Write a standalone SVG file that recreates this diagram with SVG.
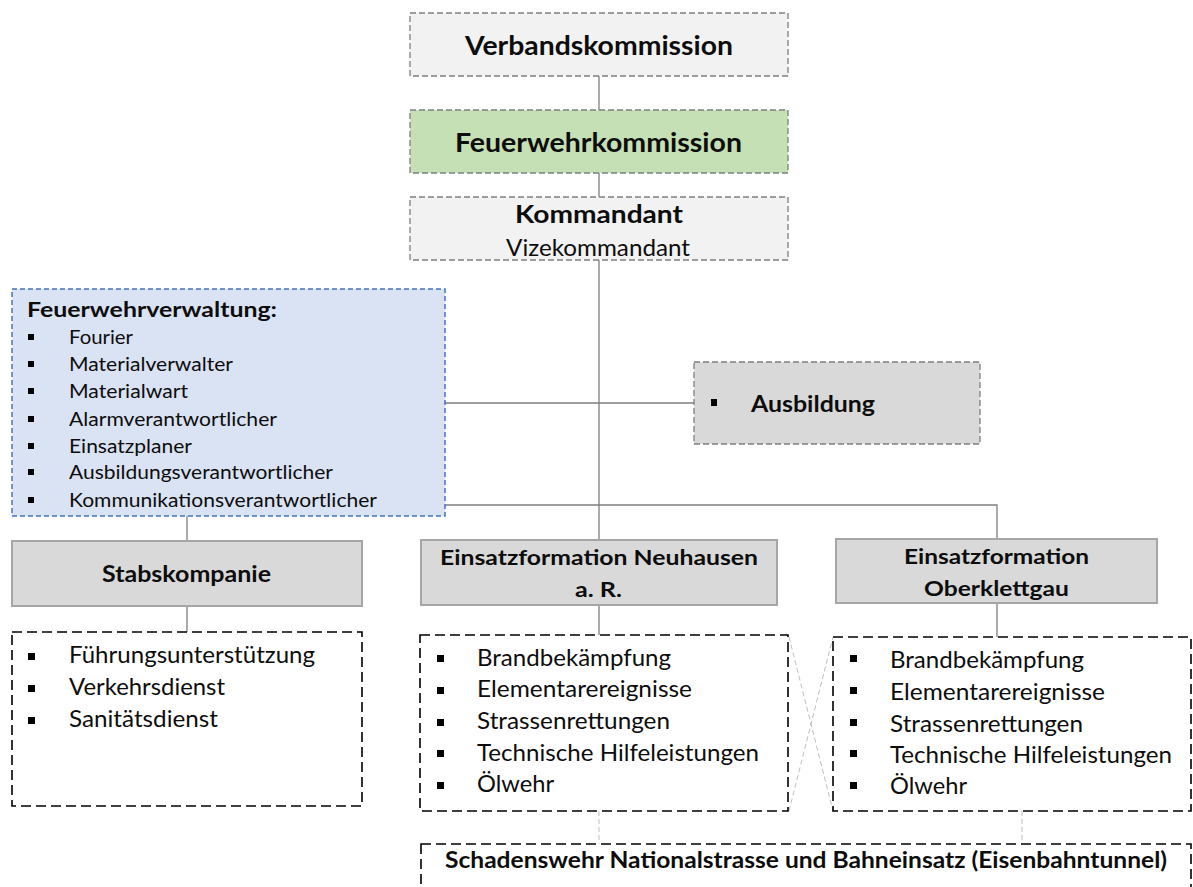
<svg xmlns="http://www.w3.org/2000/svg" width="1193" height="887" viewBox="0 0 1193 887">
<style>
text{font-family:Lato,"Open Sans","Liberation Sans",sans-serif;fill:#0d0d0d}
.b{font-weight:bold}
.c{text-anchor:middle}
.top{fill:#f2f2f2;stroke:#7f7f7f;stroke-width:1.3;stroke-dasharray:6 3}
.grn{fill:#c5e0b4;stroke:#7f7f7f;stroke-width:1.3;stroke-dasharray:6 3}
.fv{fill:#dae3f3;stroke:#4472c4;stroke-width:1.5;stroke-dasharray:5 3}
.aus{fill:#d9d9d9;stroke:#7f7f7f;stroke-width:1.3;stroke-dasharray:6 3}
.mid{fill:#d9d9d9;stroke:#a6a6a6;stroke-width:2}
.lst{fill:#fff;stroke:#000;stroke-width:1.6;stroke-dasharray:10 5}
.bul{fill:#000}
.con line,.con polyline{stroke:#7f7f7f;stroke-width:1.3;fill:none}
.con .lt{stroke:#bfbfbf;stroke-width:1;stroke-dasharray:5 3}
</style>
<g class="con" id="connectors">
<line x1="599" y1="76" x2="599" y2="110"/>
<line x1="599" y1="173" x2="599" y2="197"/>
<line x1="599" y1="260" x2="599" y2="540"/>
<line x1="445" y1="403" x2="694" y2="403"/>
<polyline points="445,505 997,505 997,539"/>
<line x1="187" y1="516" x2="187" y2="541"/>
<line x1="187" y1="606" x2="187" y2="632"/>
<line x1="599" y1="605" x2="599" y2="635"/>
<line x1="997" y1="603" x2="997" y2="637"/>
<line class="lt" x1="599" y1="811" x2="599" y2="844"/>
<line class="lt" x1="1022" y1="811" x2="1022" y2="844"/>
<line class="lt" x1="789" y1="637" x2="833" y2="811"/>
<line class="lt" x1="789" y1="811" x2="833" y2="637"/>
</g>
<g id="verbandskommission">
<rect class="top" x="410" y="13" width="378" height="63"/>
<text class="b c" x="599" y="55" font-size="26" textLength="268" lengthAdjust="spacingAndGlyphs">Verbandskommission</text>
</g>
<g id="feuerwehrkommission">
<rect class="grn" x="410" y="110" width="378" height="63"/>
<text class="b c" x="598.5" y="152" font-size="26" textLength="287" lengthAdjust="spacingAndGlyphs">Feuerwehrkommission</text>
</g>
<g id="kommandant">
<rect class="top" x="410" y="197" width="378" height="63"/>
<text class="b c" x="599" y="223" font-size="25" textLength="168" lengthAdjust="spacingAndGlyphs">Kommandant</text>
<text class="c" x="598" y="256" font-size="23" textLength="184" lengthAdjust="spacingAndGlyphs">Vizekommandant</text>
</g>
<g id="feuerwehrverwaltung">
<rect class="fv" x="12" y="289" width="433" height="227"/>
<text class="b" x="27" y="317" font-size="20" textLength="250" lengthAdjust="spacingAndGlyphs">Feuerwehrverwaltung:</text>
<rect class="bul" x="28" y="334" width="6" height="6"/>
<text x="69" y="344" font-size="19.5" textLength="64" lengthAdjust="spacingAndGlyphs">Fourier</text>
<rect class="bul" x="28" y="361" width="6" height="6"/>
<text x="69" y="371" font-size="19.5" textLength="164" lengthAdjust="spacingAndGlyphs">Materialverwalter</text>
<rect class="bul" x="28" y="388" width="6" height="6"/>
<text x="69" y="398" font-size="19.5" textLength="119" lengthAdjust="spacingAndGlyphs">Materialwart</text>
<rect class="bul" x="28" y="416" width="6" height="6"/>
<text x="69" y="426" font-size="19.5" textLength="208" lengthAdjust="spacingAndGlyphs">Alarmverantwortlicher</text>
<rect class="bul" x="28" y="443" width="6" height="6"/>
<text x="69" y="453" font-size="19.5" textLength="123" lengthAdjust="spacingAndGlyphs">Einsatzplaner</text>
<rect class="bul" x="28" y="469" width="6" height="6"/>
<text x="69" y="479" font-size="19.5" textLength="264" lengthAdjust="spacingAndGlyphs">Ausbildungsverantwortlicher</text>
<rect class="bul" x="28" y="497" width="6" height="6"/>
<text x="69" y="507" font-size="19.5" textLength="308" lengthAdjust="spacingAndGlyphs">Kommunikationsverantwortlicher</text>
</g>
<g id="ausbildung">
<rect class="aus" x="694" y="362" width="286" height="82"/>
<rect class="bul" x="711" y="399" width="6" height="7"/>
<text class="b" x="751" y="412" font-size="23" textLength="124" lengthAdjust="spacingAndGlyphs">Ausbildung</text>
</g>
<g id="stabskompanie">
<rect class="mid" x="12" y="541" width="350" height="65"/>
<text class="b c" x="186.5" y="582" font-size="23" textLength="169" lengthAdjust="spacingAndGlyphs">Stabskompanie</text>
</g>
<g id="einsatzformation-neuhausen">
<rect class="mid" x="421" y="540" width="356" height="65"/>
<text class="b c" x="599" y="565" font-size="21" textLength="318" lengthAdjust="spacingAndGlyphs">Einsatzformation Neuhausen</text>
<text class="b c" x="598.5" y="597" font-size="21" textLength="47" lengthAdjust="spacingAndGlyphs">a. R.</text>
</g>
<g id="einsatzformation-oberklettgau">
<rect class="mid" x="836" y="539" width="321" height="64"/>
<text class="b c" x="996.5" y="564" font-size="21" textLength="185" lengthAdjust="spacingAndGlyphs">Einsatzformation</text>
<text class="b c" x="996.5" y="596" font-size="21" textLength="145" lengthAdjust="spacingAndGlyphs">Oberklettgau</text>
</g>
<g id="stab-liste">
<rect class="lst" x="12" y="632" width="350" height="174"/>
<rect class="bul" x="28" y="653" width="7" height="7"/>
<text x="69" y="663" font-size="23" textLength="246" lengthAdjust="spacingAndGlyphs">Führungsunterstützung</text>
<rect class="bul" x="28" y="685" width="7" height="7"/>
<text x="69" y="695" font-size="23" textLength="156" lengthAdjust="spacingAndGlyphs">Verkehrsdienst</text>
<rect class="bul" x="28" y="717" width="7" height="7"/>
<text x="69" y="727" font-size="23" textLength="149" lengthAdjust="spacingAndGlyphs">Sanitätsdienst</text>
</g>
<g id="neuhausen-liste">
<rect class="lst" x="420" y="635" width="368" height="176"/>
<rect class="bul" x="437" y="655" width="7" height="7"/>
<text x="477" y="666" font-size="23" textLength="194" lengthAdjust="spacingAndGlyphs">Brandbekämpfung</text>
<rect class="bul" x="437" y="687" width="7" height="7"/>
<text x="477" y="697" font-size="23" textLength="215" lengthAdjust="spacingAndGlyphs">Elementarereignisse</text>
<rect class="bul" x="437" y="719" width="7" height="7"/>
<text x="477" y="729" font-size="23" textLength="193" lengthAdjust="spacingAndGlyphs">Strassenrettungen</text>
<rect class="bul" x="437" y="750" width="7" height="7"/>
<text x="477" y="761" font-size="23" textLength="282" lengthAdjust="spacingAndGlyphs">Technische Hilfeleistungen</text>
<rect class="bul" x="437" y="782" width="7" height="7"/>
<text x="477" y="792" font-size="23" textLength="77" lengthAdjust="spacingAndGlyphs">Ölwehr</text>
</g>
<g id="oberklettgau-liste">
<rect class="lst" x="833" y="637" width="358" height="174"/>
<rect class="bul" x="850" y="655" width="7" height="7"/>
<text x="890" y="668" font-size="23" textLength="194" lengthAdjust="spacingAndGlyphs">Brandbekämpfung</text>
<rect class="bul" x="850" y="687" width="7" height="7"/>
<text x="890" y="700" font-size="23" textLength="215" lengthAdjust="spacingAndGlyphs">Elementarereignisse</text>
<rect class="bul" x="850" y="719" width="7" height="7"/>
<text x="890" y="732" font-size="23" textLength="193" lengthAdjust="spacingAndGlyphs">Strassenrettungen</text>
<rect class="bul" x="850" y="750" width="7" height="7"/>
<text x="890" y="763" font-size="23" textLength="282" lengthAdjust="spacingAndGlyphs">Technische Hilfeleistungen</text>
<rect class="bul" x="850" y="782" width="7" height="7"/>
<text x="890" y="794" font-size="23" textLength="77" lengthAdjust="spacingAndGlyphs">Ölwehr</text>
</g>
<g id="schadenswehr">
<rect class="lst" x="421" y="844" width="770" height="60"/>
<text class="b" x="445" y="868" font-size="22" textLength="722" lengthAdjust="spacingAndGlyphs">Schadenswehr Nationalstrasse und Bahneinsatz (Eisenbahntunnel)</text>
</g>
</svg>
